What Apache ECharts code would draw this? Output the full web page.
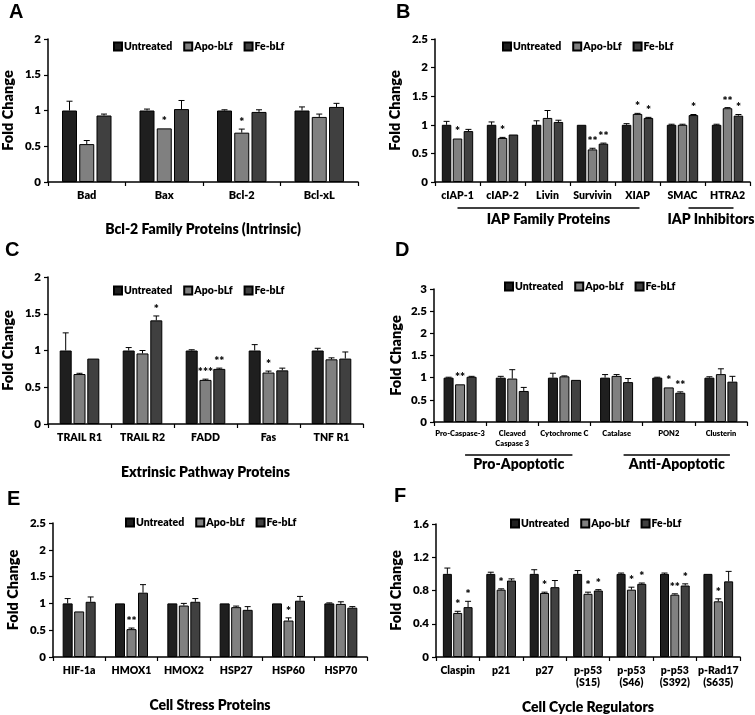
<!DOCTYPE html>
<html><head><meta charset="utf-8">
<script src="https://cdn.jsdelivr.net/npm/echarts@6/dist/echarts.min.js"></script>
<style>html,body{margin:0;padding:0;background:#fff}#c{width:755px;height:715px}</style>
</head><body><div id="c"></div>
<script>
const seriesNames = ['Untreated', 'Apo-bLf', 'Fe-bLf'];

// Panel A
const A_cats = ['Bad', 'Bax', 'Bcl-2', 'Bcl-xL'];
const A_untreated = [1.0, 1.0, 1.0, 1.0];
const A_apo = [0.53, 0.75, 0.69, 0.91];
const A_fe = [0.93, 1.02, 0.98, 1.05];
const A_errU = [0.13, 0.02, 0.01, 0.05];
const A_errA = [0.05, 0.0, 0.05, 0.04];
const A_errF = [0.02, 0.12, 0.03, 0.05];
const A_sigA = ['', '*', '*', ''];
const A_sigF = ['', '', '', ''];
const A_ticks = [0, 2, 0.5];

// Panel B
const B_cats = ['cIAP-1', 'cIAP-2', 'Livin', 'Survivin', 'XIAP', 'SMAC', 'HTRA2'];
const B_untreated = [1.0, 1.0, 1.0, 1.0, 1.0, 1.0, 1.0];
const B_apo = [0.76, 0.77, 1.12, 0.57, 1.19, 1.0, 1.29];
const B_fe = [0.89, 0.83, 1.05, 0.67, 1.12, 1.17, 1.16];
const B_errU = [0.06, 0.05, 0.07, 0.0, 0.02, 0.01, 0.01];
const B_errA = [0.0, 0.01, 0.13, 0.02, 0.01, 0.01, 0.01];
const B_errF = [0.03, 0.0, 0.03, 0.01, 0.01, 0.01, 0.02];
const B_sigA = ['*', '*', '', '**', '*', '', '**'];
const B_sigF = ['', '', '', '**', '*', '*', '*'];
const B_ticks = [0, 2.5, 0.5];

// Panel C
const C_cats = ['TRAIL R1', 'TRAIL R2', 'FADD', 'Fas', 'TNF R1'];
const C_untreated = [1.0, 1.0, 1.0, 1.0, 1.0];
const C_apo = [0.68, 0.96, 0.60, 0.70, 0.88];
const C_fe = [0.89, 1.41, 0.75, 0.73, 0.89];
const C_errU = [0.24, 0.04, 0.01, 0.08, 0.03];
const C_errA = [0.01, 0.04, 0.01, 0.02, 0.02];
const C_errF = [0.0, 0.06, 0.01, 0.03, 0.09];
const C_sigA = ['', '', '***', '*', ''];
const C_sigF = ['', '*', '**', '', ''];
const C_ticks = [0, 2, 0.5];

// Panel D
const D_cats = ['Pro-Caspase-3', 'Cleaved\nCaspase 3', 'Cytochrome C', 'Catalase', 'PON2', 'Clusterin'];
const D_untreated = [1.0, 1.0, 1.0, 1.0, 1.0, 1.0];
const D_apo = [0.85, 0.98, 1.03, 1.04, 0.78, 1.08];
const D_fe = [1.02, 0.70, 0.95, 0.90, 0.66, 0.91];
const D_errU = [0.01, 0.03, 0.10, 0.07, 0.01, 0.02];
const D_errA = [0.0, 0.20, 0.01, 0.03, 0.0, 0.12];
const D_errF = [0.01, 0.08, 0.0, 0.08, 0.02, 0.12];
const D_sigA = ['**', '', '', '', '*', ''];
const D_sigF = ['', '', '', '', '**', ''];
const D_ticks = [0, 3, 0.5];

// Panel E
const E_cats = ['HIF-1a', 'HMOX1', 'HMOX2', 'HSP27', 'HSP60', 'HSP70'];
const E_untreated = [1.0, 1.0, 1.0, 1.0, 1.0, 1.0];
const E_apo = [0.85, 0.52, 0.96, 0.93, 0.68, 0.99];
const E_fe = [1.03, 1.20, 1.03, 0.88, 1.05, 0.92];
const E_errU = [0.09, 0.0, 0.0, 0.0, 0.0, 0.01];
const E_errA = [0.0, 0.02, 0.04, 0.02, 0.05, 0.04];
const E_errF = [0.09, 0.15, 0.06, 0.06, 0.08, 0.02];
const E_sigA = ['', '**', '', '', '*', ''];
const E_sigF = ['', '', '', '', '', ''];
const E_ticks = [0, 2.5, 0.5];

// Panel F
const F_cats = ['Claspin', 'p21', 'p27', 'p-p53\n(S15)', 'p-p53\n(S46)', 'p-p53\n(S392)', 'p-Rad17\n(S635)'];
const F_untreated = [1.0, 1.0, 1.0, 1.0, 1.0, 1.0, 1.0];
const F_apo = [0.53, 0.81, 0.77, 0.76, 0.81, 0.75, 0.67];
const F_fe = [0.60, 0.92, 0.84, 0.80, 0.88, 0.86, 0.91];
const F_errU = [0.07, 0.02, 0.05, 0.04, 0.01, 0.01, 0.0];
const F_errA = [0.02, 0.01, 0.01, 0.02, 0.03, 0.01, 0.03];
const F_errF = [0.07, 0.02, 0.08, 0.01, 0.01, 0.02, 0.12];
const F_sigA = ['*', '*', '*', '*', '*', '**', '*'];
const F_sigF = ['*', '', '', '*', '*', '*', ''];
const F_ticks = [0, 1.6, 0.4];

const colors = ['#1f1f1f', '#808080', '#404040'];
const FONT = 'Lato, "Open Sans", sans-serif';
const W = 800;

const panels = [
  {letter:'A', cats:A_cats, vals:[A_untreated,A_apo,A_fe], errs:[A_errU,A_errA,A_errF], sigs:[null,A_sigA,A_sigF], ticks:A_ticks,
   grid:{left:45, top:39, width:313, height:143}, bw:15, catFont:11, xname:'Bcl-2 Family Proteins (Intrinsic)', xnameGap:40,
   legend:{left:108, top:36}, letterPos:[9,2]},
  {letter:'B', cats:B_cats, vals:[B_untreated,B_apo,B_fe], errs:[B_errU,B_errA,B_errF], sigs:[null,B_sigA,B_sigF], ticks:B_ticks,
   grid:{left:435, top:39, width:315, height:143}, bw:9.5, catFont:10.5, xname:'', xnameGap:40,
   legend:{left:497, top:36}, letterPos:[396,2]},
  {letter:'C', cats:C_cats, vals:[C_untreated,C_apo,C_fe], errs:[C_errU,C_errA,C_errF], sigs:[null,C_sigA,C_sigF], ticks:C_ticks,
   grid:{left:47, top:277, width:316, height:147}, bw:12, catFont:10.5, xname:'Extrinsic Pathway Proteins', xnameGap:41,
   legend:{left:108, top:280}, letterPos:[5,240]},
  {letter:'D', cats:D_cats, vals:[D_untreated,D_apo,D_fe], errs:[D_errU,D_errA,D_errF], sigs:[null,D_sigA,D_sigF], ticks:D_ticks,
   grid:{left:434, top:289, width:313, height:133}, bw:10, catFont:7.5, xname:'', xnameGap:40,
   legend:{left:499, top:276}, letterPos:[395,240]},
  {letter:'E', cats:E_cats, vals:[E_untreated,E_apo,E_fe], errs:[E_errU,E_errA,E_errF], sigs:[null,E_sigA,E_sigF], ticks:E_ticks,
   grid:{left:53, top:523, width:314, height:134}, bw:10, catFont:10.5, xname:'Cell Stress Proteins', xnameGap:41,
   legend:{left:120, top:512}, letterPos:[7,489]},
  {letter:'F', cats:F_cats, vals:[F_untreated,F_apo,F_fe], errs:[F_errU,F_errA,F_errF], sigs:[null,F_sigA,F_sigF], ticks:F_ticks,
   grid:{left:436, top:524, width:304, height:138}, bw:9, catFont:10.5, xname:'Cell Cycle Regulators', xnameGap:43,
   legend:{left:505, top:513}, letterPos:[394,486]}
];

const grids = [], xAxes = [], yAxes = [], series = [], legends = [], graphics = [];
const GAP = 0.15;

panels.forEach((p, gi) => {
  grids.push(p.grid);
  xAxes.push({
    type:'category', gridIndex:gi, data:p.cats,
    axisLine:{lineStyle:{color:'#000', width:1.5}},
    axisTick:{show:true, alignWithLabel:false, length:4, lineStyle:{color:'#000', width:1.2}},
    axisLabel:{color:'#000', fontFamily:FONT, fontWeight:W, fontSize:p.catFont, margin:7, interval:0, lineHeight:p.catFont+2},
    name:p.xname, nameLocation:'middle', nameGap:p.xnameGap,
    nameTextStyle:{color:'#000', fontFamily:FONT, fontWeight:W, fontSize:14}
  });
  yAxes.push({
    type:'value', gridIndex:gi, min:p.ticks[0], max:p.ticks[1], interval:p.ticks[2],
    axisLine:{show:true, lineStyle:{color:'#000', width:1.5}},
    axisTick:{show:true, length:4, lineStyle:{color:'#000', width:1.2}},
    splitLine:{show:false},
    axisLabel:{color:'#000', fontFamily:FONT, fontWeight:W, fontSize:11.5, margin:7},
    name:'Fold Change', nameLocation:'middle', nameGap: gi===3 ? 30 : 32, nameRotate:90,
    nameTextStyle:{color:'#000', fontFamily:FONT, fontWeight:W, fontSize:14.5}
  });
  p.vals.forEach((arr, si) => {
    series.push({
      type:'bar', name:seriesNames[si], xAxisIndex:gi, yAxisIndex:gi, data:arr,
      barWidth:p.bw, barGap:(GAP*100)+'%',
      itemStyle:{color:colors[si], borderColor:'#000', borderWidth:1},
      emphasis:{disabled:true}, silent:true
    });
  });
  p.vals.forEach((arr, si) => {
    const errs = p.errs[si], sigs = p.sigs[si];
    series.push({
      type:'custom', xAxisIndex:gi, yAxisIndex:gi, silent:true, z:5,
      data: arr.map((v, i) => [i, v + errs[i]]),
      renderItem: function (params, api) {
        const i = params.dataIndex;
        const center = api.coord([i, arr[i]]);
        const topPt = api.coord([i, arr[i] + errs[i]]);
        const x = center[0] + (si - 1) * p.bw * (1 + GAP);
        const children = [];
        if (errs[i] > 0) {
          children.push({type:'line', shape:{x1:x, y1:center[1], x2:x, y2:topPt[1]}, style:{stroke:'#000', lineWidth:1}});
          children.push({type:'line', shape:{x1:x - 3, y1:topPt[1], x2:x + 3, y2:topPt[1]}, style:{stroke:'#000', lineWidth:1}});
        }
        if (sigs && sigs[i]) {
          children.push({type:'text', x:x, y:topPt[1] - 1,
            style:{text:sigs[i], fill:'#000', font:W + ' 12px ' + FONT, textAlign:'center', textVerticalAlign:'bottom'}});
        }
        return {type:'group', children:children};
      }
    });
  });
  legends.push({
    data:seriesNames, left:p.legend.left, top:p.legend.top, icon:'rect', itemWidth:8, itemHeight:8, itemGap:11,
    textStyle:{color:'#000', fontFamily:FONT, fontWeight:W, fontSize:10.5, padding:[0,0,0,-3]},
    selectedMode:false
  });
  graphics.push({type:'text', left:p.letterPos[0], top:p.letterPos[1],
    style:{text:p.letter, fill:'#000', font:'bold 20px Arial, "Liberation Sans", sans-serif'}});
});

const chart = echarts.init(document.getElementById('c'), null, {renderer:'canvas'});
chart.setOption({
  animation:false, backgroundColor:'#fff',
  grid:grids, xAxis:xAxes, yAxis:yAxes, series:series, legend:legends, graphic:graphics
});

// group annotations under panels B and D
const groups = [
  {gi:1, from:0, to:4, label:'IAP Family Proteins', lineY:208, textY:219, dx1:0, dx2:2},
  {gi:1, from:5, to:6, label:'IAP Inhibitors', lineY:208, textY:219, dx1:6, dx2:6},
  {gi:3, from:0, to:2, label:'Pro-Apoptotic', lineY:455, textY:464, dx1:5, dx2:8},
  {gi:3, from:3, to:5, label:'Anti-Apoptotic', lineY:455, textY:464, dx1:7, dx2:9}
];
const extra = graphics.slice();
groups.forEach(g => {
  const x1 = chart.convertToPixel({xAxisIndex:g.gi}, g.from) + g.dx1;
  const x2 = chart.convertToPixel({xAxisIndex:g.gi}, g.to) + g.dx2;
  extra.push({type:'line', shape:{x1:x1, y1:g.lineY, x2:x2, y2:g.lineY}, style:{stroke:'#000', lineWidth:1.5}});
  extra.push({type:'text', x:(x1 + x2) / 2, y:g.textY,
    style:{text:g.label, fill:'#000', font:W + ' 14px ' + FONT, textAlign:'center', textVerticalAlign:'middle'}});
});
chart.setOption({graphic:extra}, {replaceMerge:['graphic']});
</script></body></html>
